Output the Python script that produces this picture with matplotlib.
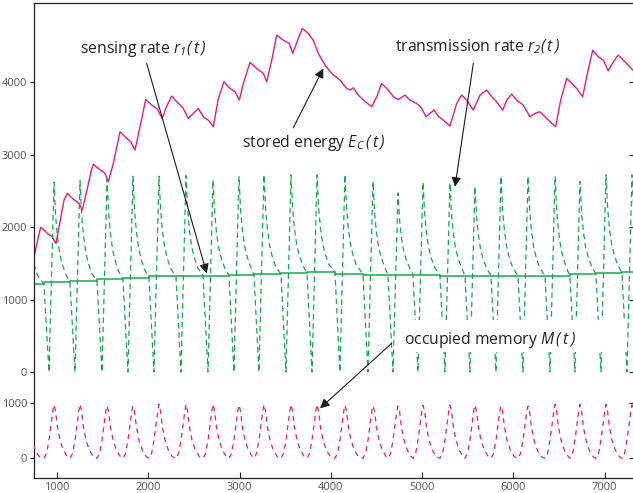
import numpy as np
import matplotlib
matplotlib.use("Agg")
import matplotlib.pyplot as plt
from matplotlib.patches import Rectangle

# ---------------- data ----------------
# stored energy E_C(t)
energy_t = [748, 784, 821, 850, 894, 949, 975, 989, 1022, 1077,
            1113, 1168, 1241, 1277, 1332, 1376, 1398, 1452, 1526, 1562,
            1617, 1690, 1745, 1807, 1854, 1909, 1972, 2037, 2092, 2153,
            2202, 2256, 2311, 2377, 2438, 2475, 2548, 2602, 2657, 2712,
            2767, 2829, 2895, 2950, 2997, 3041, 3114, 3187, 3260, 3297,
            3352, 3406, 3479, 3544, 3582, 3636, 3687, 3752, 3807, 3862,
            3935, 4009, 4100, 4173, 4209, 4246, 4300, 4355, 4447, 4502,
            4556, 4629, 4684, 4738, 4812, 4866, 4940, 4995, 5042, 5085,
            5129, 5176, 5231, 5304, 5378, 5433, 5487, 5560, 5633, 5707,
            5761, 5816, 5882, 5926, 5980, 6035, 6107, 6181, 6236, 6290,
            6345, 6400, 6462, 6517, 6583, 6638, 6692, 6758, 6809, 6868,
            6929, 6984, 7038, 7093, 7148, 7221, 7309]
energy_v = [1580, 1797, 1995, 1968, 1913, 1866, 1797, 1775, 2004, 2372,
            2464, 2395, 2326, 2234, 2530, 2786, 2864, 2809, 2740, 2624,
            2878, 3314, 3245, 3176, 3061, 3383, 3760, 3682, 3636, 3499,
            3668, 3806, 3728, 3650, 3499, 3544, 3636, 3521, 3475, 3383,
            3774, 4003, 3912, 3866, 3751, 3981, 4271, 4188, 4119, 4003,
            4302, 4647, 4578, 4533, 4395, 4578, 4740, 4670, 4578, 4395,
            4233, 4119, 4027, 3912, 3889, 3921, 3820, 3751, 3659, 3797,
            3981, 3889, 3797, 3760, 3820, 3751, 3705, 3636, 3521, 3567,
            3613, 3530, 3475, 3392, 3705, 3820, 3751, 3613, 3820, 3889,
            3797, 3728, 3613, 3751, 3834, 3751, 3682, 3521, 3567, 3590,
            3521, 3452, 3383, 3751, 4050, 3981, 3912, 3797, 4119, 4440,
            4348, 4302, 4155, 4279, 4371, 4279, 4164]

# sensing rate r1(t): step values starting at the given times
r1_t = [748, 857, 1142, 1438, 1722, 2007, 2303, 2599, 2883, 3157, 3453, 3738,
        4044, 4351, 4625, 4899, 5194, 5468, 5753, 6049, 6345, 6618, 6903, 7188, 7309]
r1_v = [1214, 1237, 1255, 1278, 1300, 1318, 1328, 1330, 1338, 1347, 1365, 1380,
        1356, 1343, 1343, 1338, 1330, 1330, 1330, 1328, 1320, 1352, 1370, 1375, 1375]

# transmission-rate cycles: peak times and peak heights
r2_peak_t = [660, 967, 1252, 1548, 1832, 2117, 2413, 2709, 2993, 3267, 3563, 3848,
             4154, 4461, 4735, 5009, 5304, 5578, 5863, 6159, 6455, 6728, 7013, 7298]
r2_peak_v = [2650, 2620, 2640, 2660, 2700, 2700, 2710, 2650, 2700, 2720, 2720, 2720,
             2720, 2630, 2470, 2620, 2610, 2560, 2700, 2700, 2700, 2630, 2720, 2720]
# shape of the decay after each peak (time after peak, share of height above r1)
r2_decay_dt = [0, 7, 18, 37, 62, 91, 128]
r2_decay_share = [1.0, 0.87, 0.66, 0.46, 0.29, 0.18, 0.08]

# occupied memory M(t): peak heights per cycle, and the cycle shape
mem_peak_v = [960, 975, 985, 955, 950, 985, 985, 985, 970, 980, 980, 980,
              965, 950, 950, 965, 965, 965, 955, 950, 980, 980, 980, 970]
mem_dt = [-110, -81, -55, -30, -11, 0, 18, 37, 66, 102, 146]
mem_shape = [0, 90, 330, 640, 880, None, 850, 575, 333, 150, 30]


def r1_at(t):
    i = int(np.searchsorted(r1_t, t, side="right")) - 1
    return r1_v[max(i, 0)]


# assemble r2 series
r2_t, r2_v = [], []
for k in range(len(r2_peak_t)):
    p, P = r2_peak_t[k], r2_peak_v[k]
    base = r1_at(p)
    for dt, s in zip(r2_decay_dt, r2_decay_share):
        r2_t.append(p + dt)
        r2_v.append(base + (P - base) * s)
    if k + 1 < len(r2_peak_t):
        pn = r2_peak_t[k + 1]
        r2_t.append(pn - 110)
        r2_v.append(r1_at(pn - 111))
        r2_t.append(pn - 55)
        r2_v.append(0)

# assemble memory series
m_t, m_v = [], []
for k in range(len(r2_peak_t)):
    p = r2_peak_t[k]
    for dt, val in zip(mem_dt, mem_shape):
        m_t.append(p + dt)
        m_v.append(mem_peak_v[k] if val is None else val)

# ---------------- style ----------------
plt.rcParams["font.family"] = ["Open Sans", "DejaVu Sans"]
plt.rcParams["mathtext.fontset"] = "custom"
plt.rcParams["mathtext.rm"] = "Open Sans:italic"
plt.rcParams["mathtext.it"] = "Open Sans:italic"

MAG = "#e8198b"
GRN = "#16a94e"
TXT = "#222222"
TICK = "#555555"

W, H = 633, 493
fig = plt.figure(figsize=(W / 100, H / 100), dpi=100)
pos = [34 / W, 15 / H, (633 - 34) / W, (478 - 3) / H]

XLIM = (748, 7309)
ax = fig.add_axes(pos)
ax.set_xlim(*XLIM)
ax.set_ylim(-1462, 5090)

ax.plot(energy_t, energy_v, color=MAG, lw=1.0, zorder=2, solid_joinstyle="round")
ax.step(r1_t, r1_v, where="post", color=GRN, lw=1.1, zorder=2)
ax.plot(r2_t, r2_v, color=GRN, lw=0.9, dashes=(4.5, 3.0), zorder=2)

ax.spines["right"].set_visible(False)
for s in ("top", "left", "bottom"):
    ax.spines[s].set_color("#222222")
    ax.spines[s].set_linewidth(0.9)
ax.set_yticks([0, 1000, 2000, 3000, 4000])
ax.set_xticks([1000, 2000, 3000, 4000, 5000, 6000, 7000])
ax.tick_params(axis="y", direction="out", length=3, width=0.8, color="#222222",
               labelsize=8, labelcolor=TICK, pad=2)
ax.tick_params(axis="x", direction="in", length=4, width=0.8, color="#222222",
               labelsize=8, labelcolor=TICK, pad=3)

# white box behind the memory label
ax.add_patch(Rectangle((4724, 276), 7243 - 4724, 717 - 276, facecolor="white",
                       edgecolor="none", zorder=3))

# right-hand inward ticks for the upper scale
axr = fig.add_axes(pos, frameon=False)
axr.set_xlim(*XLIM)
axr.set_ylim(-1462, 5090)
axr.yaxis.tick_right()
axr.set_yticks([0, 1000, 2000, 3000, 4000])
axr.set_xticks([])
axr.tick_params(axis="y", direction="in", length=3, width=0.8, color="#222222",
                labelright=False)

# memory axes
axm = fig.add_axes(pos, frameon=False)
axm.patch.set_alpha(0)
axm.set_xlim(*XLIM)
axm.set_ylim(-358, 8278)
axm.plot(m_t, m_v, color=MAG, lw=0.9, dashes=(4.0, 3.5), zorder=2)
axm.set_xticks([])
axm.set_yticks([0, 1000])
axm.tick_params(axis="y", direction="out", length=3, width=0.8, color="#222222",
                labelsize=8, labelcolor=TICK, pad=2)
axmr = fig.add_axes(pos, frameon=False)
axmr.set_xlim(*XLIM)
axmr.set_ylim(-358, 8278)
axmr.yaxis.tick_right()
axmr.set_yticks([0, 1000])
axmr.set_xticks([])
axmr.tick_params(axis="y", direction="in", length=3, width=0.8, color="#222222",
                 labelright=False)

# annotations
arrow = dict(arrowstyle="-|>", color="#1a1a1a", lw=0.8, mutation_scale=14,
             shrinkA=0, shrinkB=0)
tkw = dict(fontsize=11.3, color=TXT, ha="center", va="center", zorder=5)

ax.text(1940, 4454, r"sensing rate $r_1(\,t\,)$", **tkw)
ax.annotate("", xy=(2640, 1361), xytext=(1982, 4257), arrowprops=arrow, zorder=5)

ax.text(3809, 3158, r"stored energy $E_C\,(\,t\,)$", **tkw)
ax.annotate("", xy=(3917, 4188), xytext=(3588, 3369), arrowprops=arrow, zorder=5)

ax.text(5606, 4482, r"transmission rate $r_2(\,t\,)$", **tkw)
ax.annotate("", xy=(5359, 2555), xytext=(5560, 4257), arrowprops=arrow, zorder=5)

ax.text(5743, 441, r"occupied memory $M\,(\,t\,)$", **tkw)
ax.annotate("", xy=(3881, -501), xytext=(4666, 396), arrowprops=arrow, zorder=5)

fig.savefig("out.png", dpi=100)
